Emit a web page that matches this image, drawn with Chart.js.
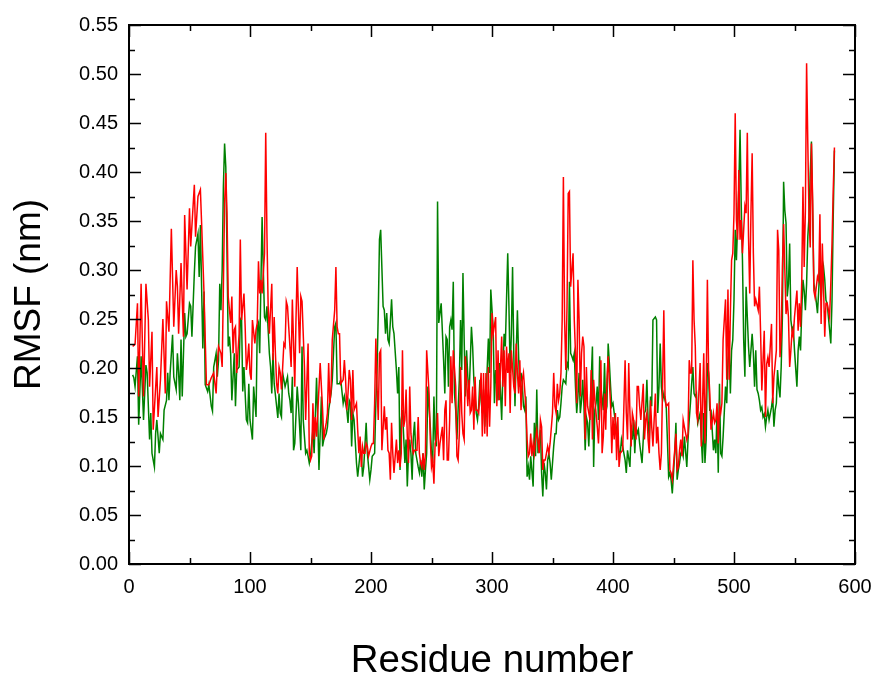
<!DOCTYPE html>
<html>
<head>
<meta charset="utf-8">
<title>RMSF per residue</title>
<script src="https://cdn.jsdelivr.net/npm/chart.js@4.4.1/dist/chart.umd.min.js"></script>
<style>
  html, body { margin: 0; padding: 0; background: #fff; overflow: hidden; }
  #wrap { width: 880px; height: 684px; position: relative; }
</style>
</head>
<body>
<div id="wrap"><canvas id="rmsfChart"></canvas></div>
<script>
// Axis ticks
const xTickValues = [0, 100, 200, 300, 400, 500, 600];
const xMinorTicks = [50, 150, 250, 350, 450, 550];
const yTickValues = [0, 0.05, 0.1, 0.15, 0.2, 0.25, 0.3, 0.35, 0.4, 0.45, 0.5, 0.55];
const yMinorTicks = [0.025, 0.075, 0.125, 0.175, 0.225, 0.275, 0.325, 0.375, 0.425, 0.475, 0.525];

// Green series (residue, RMSF in nm)
const greenResidues = [
  3, 4, 5, 7, 8, 10, 11, 12, 14, 15,
  17, 18, 19, 21, 22, 23, 25, 26, 28, 29,
  31, 32, 33, 34, 36, 37, 39, 40, 41, 42,
  43, 44, 46, 47, 48, 50, 51, 52, 54, 55,
  57, 58, 59, 61, 62, 63, 65, 66, 68, 69,
  70, 72, 73, 74, 75, 76, 77, 78, 79, 80,
  81, 82, 83, 84, 85, 87, 88, 89, 91, 92,
  93, 94, 95, 96, 97, 98, 99, 100, 101, 102,
  103, 105, 106, 107, 108, 110, 111, 112, 113, 114,
  116, 117, 118, 119, 120, 122, 123, 124, 125, 126,
  127, 128, 129, 131, 132, 133, 134, 135, 136, 137,
  139, 140, 142, 143, 144, 146, 147, 148, 149, 150,
  152, 153, 155, 156, 157, 159, 160, 161, 163, 164,
  165, 167, 168, 169, 170, 171, 172, 174, 175, 177,
  178, 180, 181, 182, 183, 184, 185, 186, 188, 189,
  191, 192, 193, 194, 196, 197, 199, 200, 201, 203,
  204, 205, 206, 207, 208, 210, 211, 212, 213, 214,
  215, 217, 218, 219, 221, 222, 223, 224, 225, 226,
  228, 229, 230, 231, 232, 233, 234, 235, 236, 237,
  239, 240, 241, 242, 243, 244, 245, 246, 247, 249,
  250, 251, 252, 253, 254, 255, 256, 257, 258, 260,
  261, 262, 263, 264, 265, 266, 267, 268, 269, 270,
  271, 273, 274, 275, 276, 277, 278, 279, 280, 281,
  282, 283, 284, 285, 287, 288, 289, 290, 291, 292,
  293, 294, 295, 297, 298, 299, 301, 302, 303, 305,
  306, 308, 309, 310, 311, 313, 314, 315, 316, 317,
  318, 319, 320, 321, 322, 323, 324, 325, 326, 327,
  328, 329, 330, 331, 332, 334, 335, 336, 337, 338,
  340, 341, 342, 343, 344, 345, 346, 347, 348, 349,
  351, 352, 353, 354, 355, 356, 357, 358, 359, 361,
  362, 363, 364, 365, 366, 367, 368, 369, 370, 371,
  372, 373, 374, 375, 376, 377, 378, 379, 380, 382,
  383, 384, 385, 386, 387, 388, 389, 390, 392, 393,
  394, 395, 396, 397, 398, 399, 400, 401, 403, 404,
  405, 406, 407, 408, 409, 410, 411, 412, 414, 415,
  416, 417, 418, 419, 420, 421, 422, 424, 425, 426,
  427, 428, 429, 430, 431, 432, 433, 435, 436, 437,
  438, 439, 440, 441, 442, 443, 444, 446, 447, 448,
  449, 451, 452, 453, 454, 455, 456, 457, 458, 459,
  461, 462, 463, 464, 465, 466, 467, 468, 469, 470,
  472, 473, 474, 475, 476, 477, 478, 479, 480, 481,
  483, 484, 485, 486, 487, 488, 489, 490, 491, 493,
  494, 495, 496, 497, 498, 499, 500, 501, 502, 504,
  505, 506, 507, 508, 509, 510, 511, 512, 513, 515,
  516, 517, 518, 519, 520, 521, 522, 523, 524, 525,
  526, 527, 528, 529, 531, 532, 533, 534, 535, 536,
  537, 538, 539, 540, 541, 542, 543, 544, 545, 546,
  547, 548, 549, 550, 552, 553, 554, 555, 556, 557,
  558, 559, 560, 561, 562, 563, 564, 565, 566, 567,
  569, 570, 571, 572, 573, 574, 575, 576, 577, 579,
  580, 581, 582, 583
];
const greenRmsf = [
  .193, .190, .181, .212, .142, .212, .181, .147, .203, .195,
  .127, .154, .113, .099, .133, .147, .113, .133, .127, .157,
  .167, .195, .167, .195, .234, .191, .178, .215, .195, .167,
  .229, .171, .256, .232, .235, .266, .263, .232, .297, .324,
  .337, .293, .346, .220, .278, .183, .176, .183, .161, .156,
  .201, .215, .191, .208, .286, .259, .300, .385, .429, .405,
  .317, .222, .232, .215, .167, .215, .161, .198, .201, .249,
  .252, .176, .201, .174, .147, .144, .184, .147, .137, .127,
  .181, .150, .242, .246, .215, .354, .300, .252, .249, .263,
  .215, .201, .174, .215, .184, .161, .149, .174, .154, .150,
  .195, .188, .181, .191, .174, .167, .154, .191, .116, .123,
  .181, .164, .116, .222, .147, .113, .116, .110, .103, .110,
  .137, .113, .190, .147, .096, .171, .120, .127, .133, .140,
  .157, .174, .188, .215, .242, .246, .184, .184, .188, .164,
  .171, .157, .144, .167, .164, .120, .154, .147, .103, .089,
  .113, .113, .089, .099, .144, .113, .086, .096, .110, .113,
  .164, .198, .256, .331, .341, .263, .259, .235, .256, .229,
  .225, .270, .242, .235, .198, .174, .201, .096, .147, .157,
  .103, .127, .079, .113, .127, .113, .086, .130, .145, .113,
  .099, .093, .106, .089, .113, .076, .096, .113, .181, .140,
  .113, .103, .171, .127, .120, .370, .246, .256, .266, .208,
  .174, .232, .229, .181, .242, .249, .239, .288, .174, .157,
  .127, .188, .249, .198, .297, .229, .171, .218, .191, .171,
  .205, .242, .222, .188, .154, .147, .161, .188, .167, .154,
  .178, .140, .167, .230, .195, .280, .239, .164, .198, .167,
  .205, .147, .195, .235, .222, .317, .263, .195, .235, .303,
  .215, .161, .215, .259, .212, .181, .195, .184, .161, .157,
  .171, .089, .099, .086, .110, .079, .144, .110, .178, .113,
  .137, .093, .069, .103, .093, .076, .106, .113, .103, .086,
  .120, .133, .133, .157, .147, .150, .164, .181, .188, .184,
  .205, .201, .288, .215, .212, .208, .215, .181, .154, .171,
  .195, .154, .167, .188, .161, .116, .150, .144, .120, .188,
  .222, .099, .157, .164, .181, .147, .212, .181, .157, .205,
  .154, .161, .225, .205, .181, .161, .164, .154, .137, .127,
  .113, .113, .127, .120, .113, .106, .093, .116, .099, .137,
  .127, .147, .113, .140, .133, .137, .123, .103, .127, .154,
  .157, .188, .147, .127, .171, .161, .249, .252, .249, .154,
  .181, .225, .181, .167, .174, .167, .161, .089, .093, .086,
  .072, .113, .144, .086, .096, .103, .113, .116, .110, .130,
  .099, .127, .147, .164, .184, .201, .174, .171, .174, .144,
  .154, .127, .103, .154, .103, .127, .205, .195, .157, .157,
  .116, .127, .113, .157, .093, .184, .113, .110, .130, .181,
  .164, .208, .222, .174, .218, .229, .270, .341, .310, .385,
  .443, .365, .310, .229, .191, .283, .252, .222, .201, .235,
  .215, .181, .218, .178, .174, .167, .157, .160, .150, .153,
  .140, .150, .157, .147, .160, .170, .140, .157, .164, .198,
  .181, .170, .201, .252, .390, .361, .348, .273, .286, .327,
  .249, .239, .242, .218, .181, .218, .232, .218, .259, .290,
  .279, .259, .286, .334, .354, .398, .431, .361, .286, .279,
  .256, .279, .307, .269, .293, .303, .290, .269, .266, .239,
  .225, .269, .354, .422
];

// Red series (residue, RMSF in nm)
const redResidues = [
  3, 5, 7, 8, 10, 12, 14, 16, 17, 19,
  20, 23, 24, 26, 28, 30, 31, 33, 35, 37,
  39, 40, 41, 43, 45, 46, 48, 50, 51, 54,
  55, 57, 59, 60, 62, 64, 66, 68, 70, 72,
  73, 74, 76, 77, 78, 79, 80, 81, 82, 84,
  85, 86, 87, 88, 89, 90, 91, 92, 93, 95,
  96, 97, 98, 99, 100, 101, 102, 104, 105, 106,
  107, 108, 109, 110, 112, 113, 114, 115, 116, 118,
  119, 120, 121, 122, 123, 124, 125, 126, 127, 128,
  129, 130, 131, 132, 134, 135, 137, 138, 139, 141,
  142, 143, 145, 146, 148, 149, 150, 151, 152, 153,
  154, 155, 156, 158, 160, 161, 162, 163, 164, 165,
  166, 167, 168, 170, 171, 172, 173, 174, 175, 177,
  178, 179, 180, 181, 182, 183, 184, 185, 186, 188,
  189, 190, 191, 192, 193, 194, 195, 196, 197, 198,
  200, 201, 202, 203, 204, 205, 206, 207, 208, 209,
  211, 212, 213, 214, 215, 216, 217, 218, 219, 221,
  222, 223, 224, 225, 226, 227, 228, 229, 230, 231,
  232, 233, 234, 235, 236, 238, 239, 240, 241, 242,
  243, 244, 245, 246, 248, 249, 250, 251, 252, 253,
  254, 255, 256, 257, 259, 260, 261, 262, 263, 264,
  265, 266, 267, 268, 270, 271, 272, 273, 274, 275,
  276, 277, 278, 280, 281, 282, 283, 284, 285, 286,
  287, 288, 289, 291, 292, 293, 294, 295, 296, 297,
  298, 299, 300, 301, 303, 304, 305, 306, 308, 309,
  310, 311, 312, 313, 314, 315, 316, 318, 319, 320,
  321, 322, 323, 324, 325, 326, 328, 329, 330, 331,
  332, 333, 334, 335, 336, 337, 339, 340, 341, 342,
  343, 344, 345, 346, 347, 348, 350, 351, 352, 353,
  354, 355, 356, 357, 358, 359, 360, 361, 362, 363,
  364, 365, 367, 368, 369, 370, 371, 372, 373, 374,
  375, 376, 377, 378, 379, 381, 382, 383, 384, 385,
  387, 388, 389, 390, 391, 392, 393, 394, 395, 396,
  398, 399, 400, 401, 402, 403, 404, 405, 406, 408,
  409, 410, 411, 412, 413, 414, 415, 416, 417, 419,
  420, 421, 422, 423, 425, 426, 427, 428, 429, 430,
  431, 432, 433, 435, 436, 437, 438, 439, 440, 441,
  442, 443, 444, 446, 447, 448, 449, 451, 452, 453,
  454, 455, 456, 457, 458, 459, 461, 462, 463, 464,
  465, 466, 467, 468, 469, 470, 472, 473, 474, 475,
  476, 477, 478, 479, 480, 481, 483, 484, 485, 486,
  487, 488, 489, 490, 491, 493, 494, 495, 496, 497,
  498, 499, 500, 501, 502, 503, 504, 505, 506, 507,
  509, 510, 511, 512, 513, 514, 515, 516, 517, 518,
  520, 521, 522, 523, 524, 525, 526, 527, 528, 529,
  531, 532, 533, 534, 535, 536, 537, 538, 539, 540,
  541, 543, 544, 545, 546, 547, 548, 549, 550, 552,
  553, 554, 555, 556, 557, 558, 559, 560, 561, 562,
  563, 564, 565, 566, 567, 569, 570, 571, 572, 573,
  574, 575, 576, 577, 579, 580, 581, 582, 583
];
const redRmsf = [
  .222, .224, .266, .171, .286, .171, .286, .249, .181, .237,
  .137, .201, .150, .188, .250, .174, .268, .237, .342, .242,
  .300, .283, .235, .307, .232, .356, .280, .363, .324, .387,
  .334, .375, .382, .348, .276, .183, .183, .190, .195, .174,
  .205, .222, .215, .201, .283, .368, .399, .358, .273, .246,
  .273, .215, .239, .242, .195, .215, .235, .331, .249, .276,
  .242, .198, .208, .225, .195, .188, .249, .225, .239, .246,
  .309, .276, .290, .276, .317, .440, .337, .263, .235, .286,
  .208, .252, .215, .184, .174, .201, .195, .178, .201, .225,
  .222, .268, .263, .242, .201, .270, .181, .249, .303, .215,
  .273, .268, .201, .147, .225, .113, .106, .110, .164, .127,
  .150, .130, .154, .205, .157, .127, .137, .144, .154, .205,
  .164, .178, .229, .259, .303, .242, .235, .235, .184, .188,
  .208, .188, .157, .174, .198, .188, .147, .198, .157, .164,
  .137, .113, .130, .099, .120, .113, .113, .123, .120, .110,
  .120, .123, .123, .164, .230, .181, .147, .215, .218, .116,
  .161, .137, .150, .116, .113, .086, .144, .113, .093, .127,
  .103, .116, .099, .113, .218, .140, .147, .178, .130, .103,
  .181, .133, .120, .113, .116, .116, .150, .113, .103, .099,
  .113, .096, .113, .218, .174, .127, .099, .106, .082, .123,
  .127, .154, .110, .123, .140, .106, .157, .167, .106, .106,
  .147, .212, .164, .218, .181, .110, .106, .133, .201, .154,
  .133, .127, .212, .161, .188, .154, .157, .181, .137, .191,
  .157, .157, .154, .195, .130, .195, .133, .195, .130, .201,
  .140, .181, .256, .235, .252, .161, .218, .167, .232, .181,
  .218, .161, .222, .195, .215, .154, .218, .181, .174, .225,
  .195, .174, .208, .157, .188, .195, .161, .127, .110, .113,
  .133, .110, .123, .113, .127, .137, .113, .147, .140, .096,
  .106, .106, .113, .120, .113, .123, .154, .195, .161, .154,
  .184, .167, .174, .195, .249, .395, .249, .198, .263, .378,
  .380, .283, .317, .249, .215, .164, .290, .249, .171, .215,
  .232, .222, .127, .201, .161, .147, .198, .127, .188, .167,
  .140, .123, .154, .208, .113, .130, .174, .137, .188, .212,
  .161, .113, .150, .127, .154, .106, .150, .099, .113, .116,
  .161, .208, .154, .127, .205, .154, .120, .154, .147, .127,
  .181, .181, .161, .147, .184, .127, .147, .154, .127, .113,
  .167, .140, .120, .174, .123, .140, .113, .096, .113, .184,
  .259, .171, .161, .164, .096, .093, .086, .116, .133, .096,
  .099, .116, .127, .110, .147, .140, .127, .133, .208, .195,
  .195, .310, .249, .222, .154, .147, .205, .120, .164, .215,
  .123, .178, .290, .198, .174, .137, .154, .144, .147, .164,
  .123, .161, .154, .164, .229, .270, .188, .280, .188, .256,
  .310, .317, .358, .460, .351, .331, .402, .331, .351, .317,
  .365, .358, .440, .334, .276, .358, .419, .317, .263, .270,
  .259, .283, .235, .177, .208, .238, .150, .204, .211, .201,
  .245, .164, .191, .204, .218, .341, .320, .211, .232, .303,
  .347, .255, .269, .252, .201, .218, .238, .232, .252, .279,
  .238, .266, .242, .289, .385, .303, .361, .511, .429, .354,
  .323, .429, .371, .279, .272, .293, .289, .357, .245, .327,
  .283, .232, .266, .266, .252, .286, .327, .381, .425
];

const FONT = "'Liberation Sans', Arial, Helvetica, sans-serif";

function toPoints(residues, values) {
  return residues.map((r, i) => ({ x: r, y: values[i] }));
}

// Frame box with inward major/minor ticks on all four sides
const frameTicks = {
  id: 'frameTicks',
  afterDraw(chart) {
    const { ctx, chartArea: a, scales: { x, y } } = chart;
    const majorLen = 12;
    const minorLen = 6;
    ctx.save();
    ctx.strokeStyle = '#000';
    ctx.lineWidth = 2;
    ctx.strokeRect(a.left, a.top, a.right - a.left, a.bottom - a.top);
    ctx.lineWidth = 1.5;
    ctx.beginPath();
    const xTick = (v, len) => {
      const px = Math.round(x.getPixelForValue(v)) + 0.5;
      ctx.moveTo(px, a.bottom); ctx.lineTo(px, a.bottom - len);
      ctx.moveTo(px, a.top); ctx.lineTo(px, a.top + len);
    };
    const yTick = (v, len) => {
      const py = Math.round(y.getPixelForValue(v)) + 0.5;
      ctx.moveTo(a.left, py); ctx.lineTo(a.left + len, py);
      ctx.moveTo(a.right, py); ctx.lineTo(a.right - len, py);
    };
    xTickValues.forEach((v) => xTick(v, majorLen));
    xMinorTicks.forEach((v) => xTick(v, minorLen));
    yTickValues.forEach((v) => yTick(v, majorLen));
    yMinorTicks.forEach((v) => yTick(v, minorLen));
    ctx.stroke();
    ctx.restore();
  }
};

function initChart() {
  const ctx = document.getElementById('rmsfChart').getContext('2d');
  new Chart(ctx, {
    type: 'line',
    data: {
      datasets: [
        {
          label: 'red',
          data: toPoints(redResidues, redRmsf),
          borderColor: '#ff0000',
          borderWidth: 1.5,
          pointRadius: 0,
          tension: 0,
          fill: false
        },
        {
          label: 'green',
          data: toPoints(greenResidues, greenRmsf),
          borderColor: '#008000',
          borderWidth: 1.5,
          pointRadius: 0,
          tension: 0,
          fill: false
        }
      ]
    },
    options: {
      responsive: true,
      maintainAspectRatio: false,
      animation: false,
      events: [],
      layout: { padding: { left: 0, top: 25, right: 25, bottom: 0 } },
      plugins: { legend: { display: false }, tooltip: { enabled: false } },
      scales: {
        x: {
          type: 'linear',
          min: 0,
          max: 600,
          grid: { display: false, drawTicks: false },
          border: { display: false },
          afterBuildTicks: (scale) => { scale.ticks = xTickValues.map((v) => ({ value: v })); },
          afterFit: (scale) => {
            scale.height = 120;
            scale.paddingLeft = 0;
            scale.paddingRight = 0;
          },
          ticks: {
            padding: 11,
            color: '#000',
            maxRotation: 0,
            autoSkip: false,
            font: { family: FONT, size: 20 },
            callback: (v) => String(v)
          },
          title: {
            display: true,
            text: 'Residue number',
            color: '#000',
            padding: { top: 0, bottom: 0 },
            font: { family: FONT, size: 38.5 }
          }
        },
        y: {
          type: 'linear',
          min: 0,
          max: 0.55,
          grid: { display: false, drawTicks: false },
          border: { display: false },
          afterBuildTicks: (scale) => { scale.ticks = yTickValues.map((v) => ({ value: v })); },
          afterFit: (scale) => {
            scale.width = 129;
            scale.paddingTop = 0;
            scale.paddingBottom = 0;
          },
          ticks: {
            padding: 11,
            color: '#000',
            autoSkip: false,
            font: { family: FONT, size: 20 },
            callback: (v) => Number(v).toFixed(2)
          },
          title: {
            display: true,
            text: 'RMSF (nm)',
            color: '#000',
            padding: { top: 8, bottom: 0 },
            font: { family: FONT, size: 37 }
          }
        }
      }
    },
    plugins: [frameTicks]
  });
}

document.addEventListener('DOMContentLoaded', initChart);
</script>
</body>
</html>
